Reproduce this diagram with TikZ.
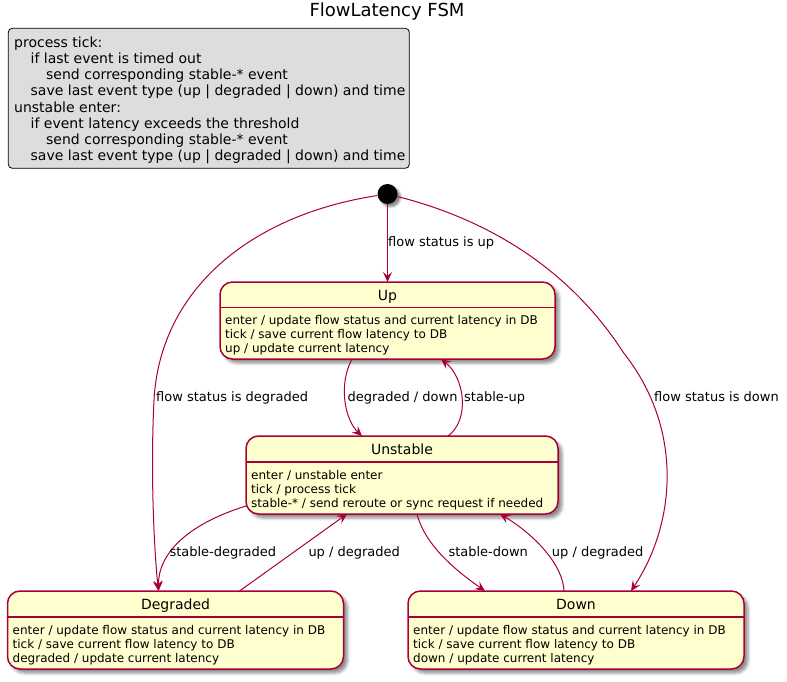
\documentclass[tikz,border=0pt]{standalone}
\usepackage{fontspec}
\setmainfont{DejaVu Sans}
\usepackage{tikz}
\usetikzlibrary{arrows.meta,shadows.blur}
\definecolor{plred}{HTML}{A80036}
\definecolor{plfill}{HTML}{FEFECE}
\definecolor{plnote}{HTML}{DDDDDD}
\tikzset{
    state/.style={rectangle, rounded corners=12.5pt, draw=plred, line width=1.5pt, fill=plfill,
        inner sep=0mm, outer sep=0mm,
        blur shadow={shadow xshift=4pt, shadow yshift=-4pt, shadow blur radius=3pt, shadow opacity=45}},
    sname/.style={anchor=base, inner sep=0mm, font=\fontsize{14}{16}\selectfont},
    sbody/.style={anchor=north west, inner sep=0mm, align=left, font=\fontsize{12}{14}\selectfont},
    sline/.style={draw=plred, line width=1.5pt},
    tr/.style={draw=plred, line width=1pt, -{Stealth[length=10pt, width=9pt, inset=4pt]}},
    tlabel/.style={anchor=base west, inner sep=0mm, font=\fontsize{13}{15}\selectfont}
}

\begin{document}
\begin{tikzpicture}[x=1pt, y=-1pt]
    \useasboundingbox (0,0) rectangle (787,682);

    \node (title) [anchor=base, inner sep=0mm, font=\fontsize{18}{20}\selectfont] at (387, 17) {FlowLatency FSM};

    % note
    \node (note) [rectangle, rounded corners=4pt, draw=black, fill=plnote, line width=0.8pt,
        minimum width=401pt, minimum height=140pt] at (208.8, 98.3) {};
    \node (notetext) [anchor=north west, align=left, inner sep=0mm, font=\fontsize{14}{16.15}\selectfont]
        at (14, 36.6) {process tick:\\
        \hspace*{16.5pt}if last event is timed out\\
        \hspace*{32pt}send corresponding stable-* event\\
        \hspace*{16.5pt}save last event type (up | degraded | down) and time\\
        unstable enter:\\
        \hspace*{16.5pt}if event latency exceeds the threshold\\
        \hspace*{32pt}send corresponding stable-* event\\
        \hspace*{16.5pt}save last event type (up | degraded | down) and time};

    \node (init) [circle, fill=black, minimum size=20pt, inner sep=0mm,
        blur shadow={shadow xshift=3pt, shadow yshift=-3pt, shadow blur radius=2pt, shadow opacity=45}] at (387.5, 194) {};

    % states
    \node (up) [state, minimum width=335pt, minimum height=77pt] at (387.5, 320.5) {};
    \draw[sline] ([yshift=-25.5pt]up.north west) -- ([yshift=-25.5pt]up.north east);
    \node (upname) [sname] at ([yshift=-18pt]up.north) {Up};
    \node (upbody) [sbody] at ([xshift=5pt, yshift=-33.5pt]up.north west)
        {enter / update flow status and current latency in DB\\tick / save current flow latency to DB\\up / update current latency};

    \node (unst) [state, minimum width=312pt, minimum height=78pt] at (402, 475) {};
    \draw[sline] ([yshift=-26pt]unst.north west) -- ([yshift=-26pt]unst.north east);
    \node (unstname) [sname] at ([yshift=-18pt]unst.north) {Unstable};
    \node (unstbody) [sbody] at ([xshift=5pt, yshift=-34pt]unst.north west)
        {enter / unstable enter\\tick / process tick\\stable-* / send reroute or sync request if needed};

    \node (deg) [state, minimum width=336pt, minimum height=78pt] at (175.5, 630) {};
    \draw[sline] ([yshift=-26pt]deg.north west) -- ([yshift=-26pt]deg.north east);
    \node (degname) [sname] at ([yshift=-18pt]deg.north) {Degraded};
    \node (degbody) [sbody] at ([xshift=5pt, yshift=-34pt]deg.north west)
        {enter / update flow status and current latency in DB\\tick / save current flow latency to DB\\degraded / update current latency};

    \node (dn) [state, minimum width=336pt, minimum height=78pt] at (576, 630) {};
    \draw[sline] ([yshift=-26pt]dn.north west) -- ([yshift=-26pt]dn.north east);
    \node (dnname) [sname] at ([yshift=-18pt]dn.north) {Down};
    \node (dnbody) [sbody] at ([xshift=5pt, yshift=-34pt]dn.north west)
        {enter / update flow status and current latency in DB\\tick / save current flow latency to DB\\down / update current latency};

    % transitions
    \draw[tr] (init) -- (up.north);
    \draw[tr] (init) .. controls (250,215) and (160,290) .. (154,400)
        .. controls (150,480) and (155,560) .. ([xshift=-17pt]deg.north);
    \draw[tr] (init) .. controls (490,220) and (570,270) .. (623,352)
        .. controls (685,430) and (675,525) .. ([xshift=55pt]dn.north);
    \draw[tr] ([xshift=-35.5pt]up.south) .. controls (338,385) and (345,420) .. ([xshift=-40pt]unst.north);
    \draw[tr] ([xshift=46pt]unst.north) .. controls (470,420) and (465,378) .. ([xshift=53.5pt]up.south);
    \draw[tr] ([yshift=-31pt]unst.west) .. controls (185,525) and (158,555) .. ([xshift=-17pt]deg.north);
    \draw[tr] ([xshift=64pt]deg.north) -- ([xshift=-55pt]unst.south);
    \draw[tr] ([xshift=15pt]unst.south) .. controls (425,545) and (455,570) .. ([xshift=-91pt]dn.north);
    \draw[tr] ([xshift=-12pt]dn.north) .. controls (563,565) and (535,535) .. ([xshift=98pt]unst.south);

    \node (lup) [tlabel] at (388, 246) {flow status is up};
    \node (ldeg) [tlabel] at (156, 401.3) {flow status is degraded};
    \node (ldd) [tlabel] at (347.3, 401.3) {degraded / down};
    \node (lsu) [tlabel] at (464, 401.3) {stable-up};
    \node (ldn) [tlabel] at (654, 401.3) {flow status is down};
    \node (lsd) [tlabel] at (169.3, 556.5) {stable-degraded};
    \node (lud1) [tlabel] at (308.3, 556.5) {up / degraded};
    \node (lsdn) [tlabel] at (448.3, 556.5) {stable-down};
    \node (lud2) [tlabel] at (551.7, 556.5) {up / degraded};
\end{tikzpicture}
\end{document}
